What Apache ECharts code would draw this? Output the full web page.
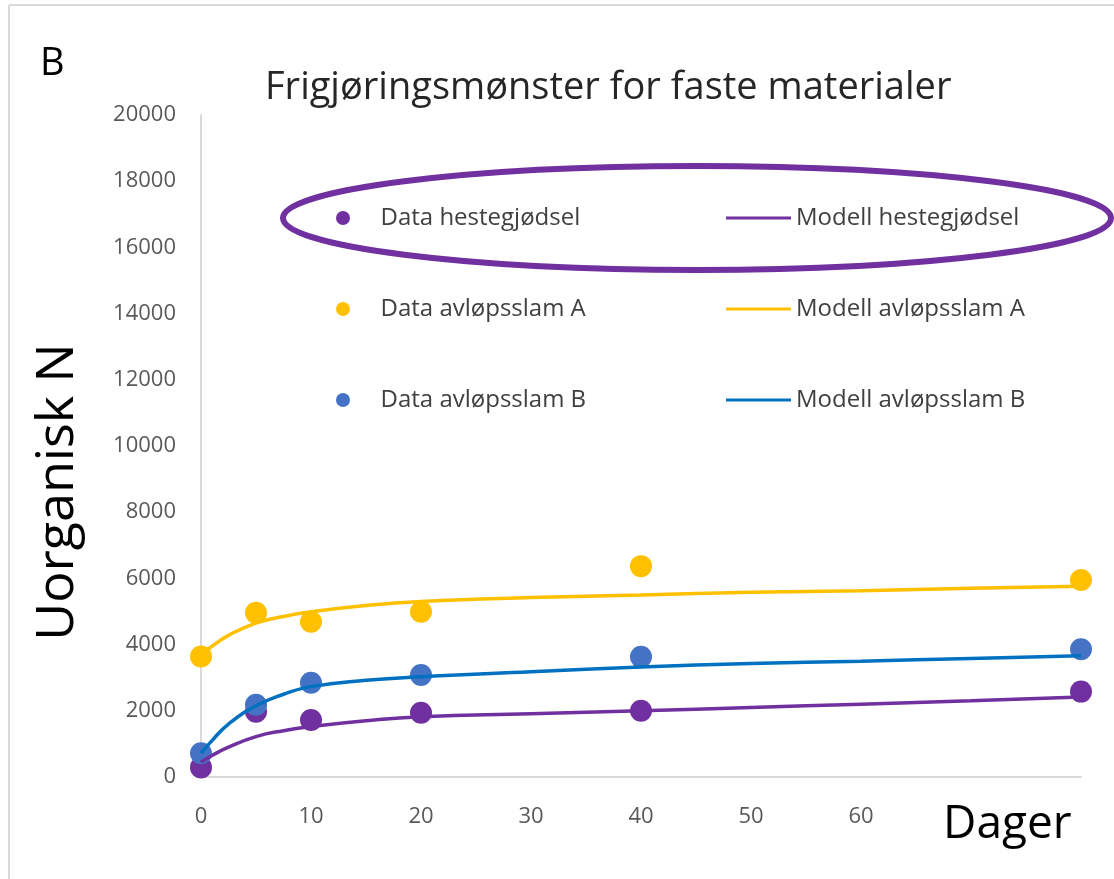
<!DOCTYPE html>
<html>
<head>
<meta charset="utf-8">
<script src="https://cdn.jsdelivr.net/npm/echarts@6/dist/echarts.min.js"></script>
<style>
  html, body { margin: 0; padding: 0; background: #fff; }
  #chart { width: 1114px; height: 879px; }
</style>
</head>
<body>
<div id="chart"></div>
<script>
// measured days
var days = [0, 5, 10, 20, 40, 80];

var dataHest = [290, 1970, 1720, 1940, 2000, 2580];
var dataSlamA = [3640, 4960, 4690, 4990, 6370, 5950];
var dataSlamB = [720, 2180, 2850, 3080, 3630, 3860];

// model curves, sampled along the drawn lines
var modelDays = [0, 1, 2.5, 5, 7.5, 10, 15, 20, 30, 40, 50, 60, 70, 80];
var modelHest = [450, 650, 900, 1220, 1400, 1520, 1700, 1820, 1910, 2000, 2100, 2200, 2300, 2420];
var modelSlamA = [3700, 3950, 4280, 4650, 4850, 4990, 5180, 5300, 5420, 5500, 5580, 5630, 5700, 5760];
var modelSlamB = [720, 1100, 1600, 2150, 2500, 2730, 2920, 3030, 3180, 3320, 3430, 3500, 3580, 3660];

var xTicks = [0, 10, 20, 30, 40, 50, 60];

var names = {
  dHest: 'Data hestegjødsel', mHest: 'Modell hestegjødsel',
  dA: 'Data avløpsslam A', mA: 'Modell avløpsslam A',
  dB: 'Data avløpsslam B', mB: 'Modell avløpsslam B'
};

function pairs(xs, ys) {
  var out = [];
  for (var i = 0; i < xs.length; i++) out.push([xs[i], ys[i]]);
  return out;
}

var font = '"Open Sans", sans-serif';
var purple = '#7030A0', gold = '#FFC000', blueDot = '#4472C4', blueLine = '#0070C0';

function scatter(name, ys, color) {
  return {
    name: name, type: 'scatter', symbolSize: 22,
    itemStyle: { color: color, opacity: 1 },
    data: pairs(days, ys)
  };
}
function model(name, ys, color) {
  return {
    name: name, type: 'line', smooth: true, showSymbol: false, symbol: 'none',
    lineStyle: { color: color, width: 3.5 }, itemStyle: { color: color },
    data: pairs(modelDays, ys)
  };
}

var chart = echarts.init(document.getElementById('chart'));

var legendText = { color: '#404040', fontSize: 24, fontFamily: font };

chart.setOption({
  backgroundColor: '#fff',
  animation: false,
  title: {
    text: 'Frigjøringsmønster for faste materialer',
    left: 260, top: 64,
    textStyle: { fontFamily: font, fontSize: 38, fontWeight: 'normal', color: '#262626' }
  },
  legend: [{
    orient: 'vertical', left: 336, top: 206, itemGap: 67, padding: 0,
    itemWidth: 65, itemHeight: 14, icon: 'circle',
    textStyle: legendText,
    data: [names.dHest, names.dA, names.dB]
  }, {
    orient: 'vertical', left: 726, top: 206, itemGap: 67, padding: 0,
    itemWidth: 65, itemHeight: 3, icon: 'rect',
    textStyle: legendText,
    data: [names.mHest, names.mA, names.mB]
  }],
  grid: { left: 201, right: 33, top: 115, bottom: 102, containLabel: false },
  xAxis: {
    type: 'value', min: 0, max: 80, interval: 10,
    axisLine: { show: true, lineStyle: { color: '#d9d9d9', width: 2 } },
    axisTick: { show: false },
    splitLine: { show: false },
    axisLabel: {
      margin: 29, fontSize: 22, color: '#595959', fontFamily: font,
      formatter: function (v) { return xTicks.indexOf(v) >= 0 ? String(v) : ''; }
    }
  },
  yAxis: {
    type: 'value', min: 0, max: 20000, interval: 2000,
    axisLine: { show: true, lineStyle: { color: '#d9d9d9', width: 2 } },
    axisTick: { show: false },
    splitLine: { show: false },
    axisLabel: {
      margin: 25, fontSize: 22, color: '#595959', fontFamily: font,
      formatter: function (v) { return String(v); }
    }
  },
  graphic: [
    { type: 'line', shape: { x1: 9, y1: 5, x2: 1114, y2: 5 }, style: { stroke: '#d9d9d9', lineWidth: 2 } },
    { type: 'line', shape: { x1: 9, y1: 5, x2: 9, y2: 879 }, style: { stroke: '#d9d9d9', lineWidth: 2 } },
    { type: 'text', left: 40, top: 45, style: { text: 'B', fontSize: 38, fontFamily: font, fill: '#000' } },
    { type: 'text', left: 943, top: 802, style: { text: 'Dager', fontSize: 46, fontFamily: font, fill: '#000' } },
    {
      type: 'text', x: 58, y: 492, rotation: Math.PI / 2,
      style: { text: 'Uorganisk N', fontSize: 52, fontFamily: font, fill: '#000', align: 'center', verticalAlign: 'middle' }
    },
    { type: 'ellipse', shape: { cx: 697, cy: 218, rx: 414, ry: 52 }, style: { fill: 'none', stroke: purple, lineWidth: 6 }, z: 100 }
  ],
  series: [
    scatter(names.dHest, dataHest, purple),
    model(names.mHest, modelHest, purple),
    scatter(names.dA, dataSlamA, gold),
    model(names.mA, modelSlamA, gold),
    scatter(names.dB, dataSlamB, blueDot),
    model(names.mB, modelSlamB, blueLine)
  ]
});

window.onresize = chart.resize;
</script>
</body>
</html>
